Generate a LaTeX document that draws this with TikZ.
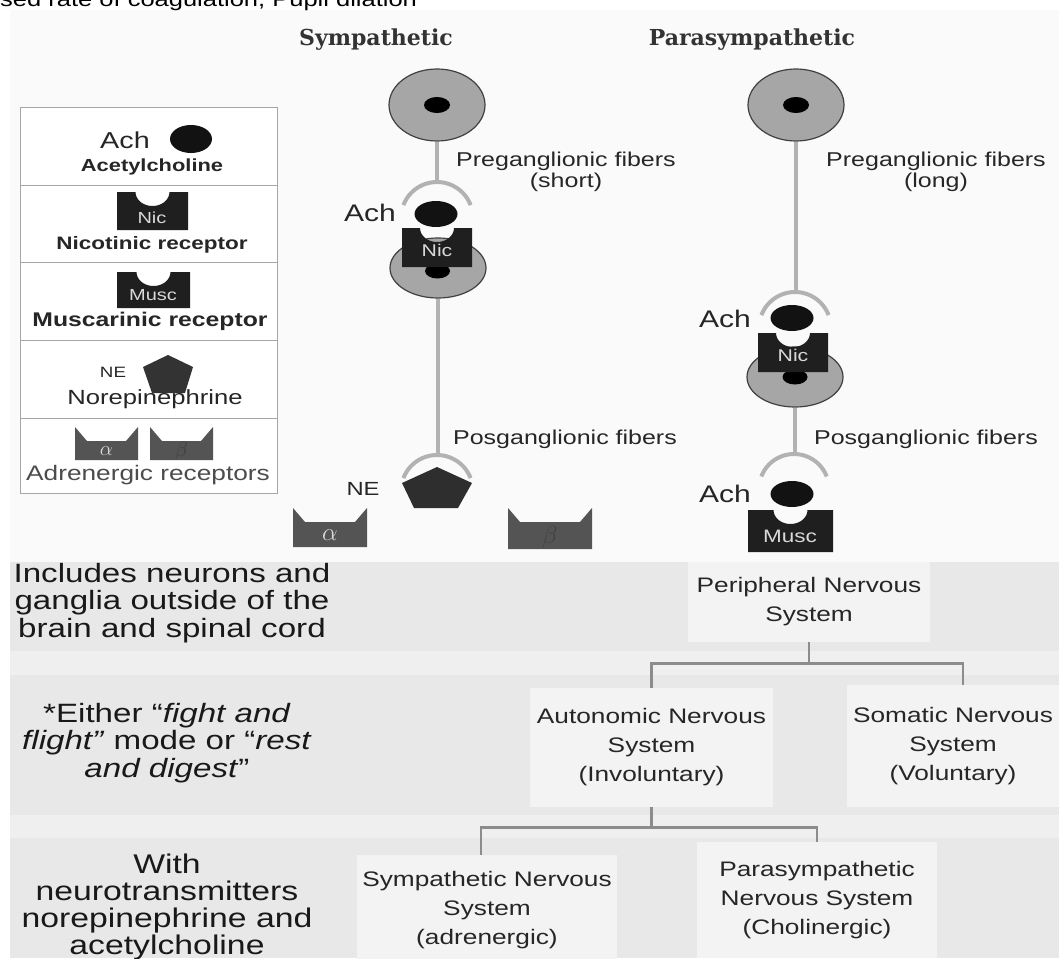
\documentclass[tikz,border=0pt]{standalone}
\usepackage{fontspec}
\setmainfont{Liberation Sans}[FakeStretch=1.25]
\newfontfamily\headfont{DejaVu Serif}
\usetikzlibrary{shapes.geometric}
\definecolor{panel}{HTML}{FAFAFA}
\definecolor{band}{HTML}{E8E8E8}
\definecolor{gapc}{HTML}{EFEFEF}
\definecolor{boxc}{HTML}{F3F3F3}
% receptor with a notch on top: left, right, top, bottom
\newcommand{\notchblock}[4]{%
  \fill[black!88] (#1,#3) -- ({(#1+#2)/2-17},#3) arc[start angle=180,end angle=0,x radius=17,y radius=14] -- (#2,#3) -- (#2,#4) -- (#1,#4) -- cycle;}
% adrenergic receptor cup: left, right, top, bottom
\newcommand{\adrrec}[4]{%
  \fill[black!67] (#1,#4) -- (#1,#3) -- (#1+12,#3+14) -- (#2-12,#3+14) -- (#2,#3) -- (#2,#4) -- cycle;}

\begin{document}
\begin{tikzpicture}[x=1pt,y=-1pt,
  neuron/.style={ellipse,draw=black!75,line width=1.2pt,fill=black!35,minimum width=96pt,minimum height=60pt,inner sep=0pt},
  soma/.style={ellipse,fill=black,minimum width=26pt,minimum height=16pt,inner sep=0pt},
  ach/.style={ellipse,fill=black!93,minimum width=43pt,minimum height=26pt,inner sep=0pt},
  fiber/.style={draw=black!30,line width=4pt},
  lbl/.style={inner sep=0pt,align=center,text=black!85,font=\fontsize{20}{21}\selectfont},
  key/.style={inner sep=0pt,text=black!85},
  head/.style={inner sep=0pt,text=black!80,font=\headfont\bfseries\fontsize{22}{24}\selectfont},
  box/.style={fill=boxc,inner sep=0pt,align=center,text=black!85,font=\fontsize{21}{29}\selectfont},
  note/.style={inner sep=0pt,align=center,text=black!90,font=\fontsize{26.5}{27.3}\selectfont},
  link/.style={draw=black!45,line width=2.6pt}]
		% page and panels
		\clip (0,0) rectangle (1059,958);
		\fill[panel] (10,10) rectangle (1059,562);
		\fill[band] (10,562) rectangle (1059,651);
		\fill[gapc] (10,651) rectangle (1059,675);
		\fill[band] (10,675) rectangle (1059,815);
		\fill[gapc] (10,815) rectangle (1059,838);
		\fill[band] (10,838) rectangle (1059,958);
		\node[anchor=base west,inner sep=0pt,font=\fontsize{20.4}{22}\selectfont] (cut) at (0,7) {sed rate of coagulation, Pupil dilation};
		% titles
		\node[head] (symtitle) at (376,40) {Sympathetic};
		\node[head] (partitle) at (752,40) {Parasympathetic};
		% legend
		\draw[black!35,fill=white] (20,107) rectangle (277,493);
		\foreach \y in {185,262,340,418} \draw[black!35] (20,\y) -- (277,\y);
		\node[key,font=\fontsize{23}{24}\selectfont] (lach) at (125,140) {Ach};
		\node[ach,minimum width=42pt,minimum height=28pt] (lball) at (191,139) {};
		\node[key,font=\bfseries\fontsize{17.5}{18}\selectfont] (lacht) at (152,167) {Acetylcholine};
		\notchblock{117}{188}{192}{230}
		\node[key,text=white!85!black,font=\fontsize{16}{17}\selectfont] (lnic) at (152,218) {Nic};
		\node[key,font=\bfseries\fontsize{18}{19}\selectfont] (lnict) at (152,245) {Nicotinic receptor};
		\notchblock{117}{190}{272}{308}
		\node[key,text=white!85!black,font=\fontsize{16}{17}\selectfont] (lmusc) at (153,295) {Musc};
		\node[key,font=\bfseries\fontsize{19.8}{20}\selectfont] (lmusct) at (150,321) {Muscarinic receptor};
		\node[key,font=\fontsize{15}{16}\selectfont] (lne) at (113,372) {NE};
		\fill[black!80] (168,355) -- (193,367) -- (185,393) -- (152,393) -- (143,367) -- cycle;
		\node[key,font=\fontsize{20.5}{21}\selectfont] (lnet) at (155,399) {Norepinephrine};
		\adrrec{75}{138}{427}{460}
		\adrrec{150}{213}{427}{460}
		\node[key,text=black!15,font=\fontsize{22}{22}\selectfont] (lalpha) at (106.5,451) {$\alpha$};
		\node[key,text=black!75,font=\fontsize{22}{22}\selectfont] (lbeta) at (181.5,451) {$\beta$};
		\node[key,text=black!70,font=\fontsize{21}{22}\selectfont] (ladr) at (148,475) {Adrenergic receptors};
		% sympathetic chain
		\coordinate (sa) at (437,218);
		\coordinate (sb) at (437,491);
		\node[neuron,minimum height=72pt] (st) at (437,105) {};
		\node[neuron] (sg) at (438,268) {};
		\draw[fiber] (st.south) -- ++(0,41);
		\draw[fiber] (sg.south) -- ++(0,157);
		\draw[fiber] (sa) ++(201:36) arc[start angle=201,end angle=339,radius=36];
		\draw[fiber] (sb) ++(201:36) arc[start angle=201,end angle=339,radius=36];
		\node[soma] (stdot) at (st) {};
		\node[soma,minimum width=25pt,minimum height=15pt] (sgdot) at (437.5,271) {};
		\node[ach] (sach) at (436,214) {};
		\notchblock{402}{472}{228}{267}
		\node[key,text=white!85!black,font=\fontsize{17}{18}\selectfont] (snic) at (437,250) {Nic};
		\node[key,font=\fontsize{24}{25}\selectfont] (sachl) at (370,213) {Ach};
		\fill[black!82] (437,467) -- (472,483) -- (458,508) -- (414,508) -- (402,483) -- cycle;
		\node[key,font=\fontsize{19}{20}\selectfont] (sne) at (363,489) {NE};
		\adrrec{293}{367}{508}{547}
		\adrrec{508}{592}{508}{549}
		\node[key,text=black!15,font=\fontsize{24}{24}\selectfont] (salpha) at (330,535) {$\alpha$};
		\node[key,text=black!75,font=\fontsize{24}{24}\selectfont] (sbeta) at (550,537) {$\beta$};
		\node[lbl] (spre) at (566,172) {Preganglionic fibers\\(short)};
		\node[lbl] (spos) at (565,439) {Posganglionic fibers};
		% parasympathetic chain
		\coordinate (pa) at (795,328);
		\coordinate (pb) at (794,489);
		\node[neuron,minimum height=72pt] (pt) at (796,105) {};
		\node[neuron] (pg) at (795,377) {};
		\draw[fiber] (pt.south) -- ++(0,151);
		\draw[fiber] (pg.south) -- ++(0,46);
		\draw[fiber] (pa) ++(201:36) arc[start angle=201,end angle=339,radius=36];
		\draw[fiber] (pb) ++(201:35) arc[start angle=201,end angle=339,radius=35];
		\node[soma] (ptdot) at (pt) {};
		\node[soma,minimum width=25pt,minimum height=15pt] (pgdot) at (795,377) {};
		\node[ach] (pach) at (792,318) {};
		\notchblock{758}{828}{333}{372}
		\node[key,text=white!85!black,font=\fontsize{17}{18}\selectfont] (pnic) at (793,355) {Nic};
		\node[key,font=\fontsize{24}{25}\selectfont] (pachl) at (725,319) {Ach};
		\node[ach] (pach2) at (792,494) {};
		\notchblock{748}{833}{510}{552}
		\node[key,text=white!85!black,font=\fontsize{18}{19}\selectfont] (pmusc) at (790,536) {Musc};
		\node[key,font=\fontsize{24}{25}\selectfont] (pachl2) at (725,494) {Ach};
		\node[lbl] (ppre) at (936,172) {Preganglionic fibers\\(long)};
		\node[lbl] (ppos) at (926,439) {Posganglionic fibers};
		% nervous system tree
		\node[box,minimum width=242pt,minimum height=80pt] (pns) at (809,602) {Peripheral Nervous\\System};
		\node[box,minimum width=243pt,minimum height=119pt] (ans) at (651.5,747.5) {Autonomic Nervous\\System\\(Involuntary)};
		\node[box,minimum width=212pt,minimum height=122pt] (sns) at (953,746) {Somatic Nervous\\System\\(Voluntary)};
		\node[box,minimum width=260pt,minimum height=110pt] (symns) at (487,910) {Sympathetic Nervous\\System\\(adrenergic)};
		\node[box,minimum width=240pt,minimum height=116pt] (parns) at (817,900) {Parasympathetic\\Nervous System\\(Cholinergic)};
		\draw[link] (pns.south) -- ++(0,21) coordinate (pj) -| (ans.north);
		\draw[link] (pj) -| ([xshift=10pt]sns.north);
		\draw[link] (ans.south) -- ++(0,20) coordinate (aj) -| ([xshift=-6pt]symns.north);
		\draw[link] (aj) -| (parns.north);
		% side notes
		\node[note] (n1) at (172,603) {Includes neurons and\\ganglia outside of the\\brain and spinal cord};
		\node[note] (n2) at (167,743) {*Either “\textit{fight and}\\\textit{flight”} mode or “\textit{rest}\\\textit{and digest}”};
		\node[note,font=\fontsize{27}{26.7}\selectfont] (n3) at (167,907) {With\\neurotransmitters\\norepinephrine and\\acetylcholine};
	\end{tikzpicture}
\end{document}
